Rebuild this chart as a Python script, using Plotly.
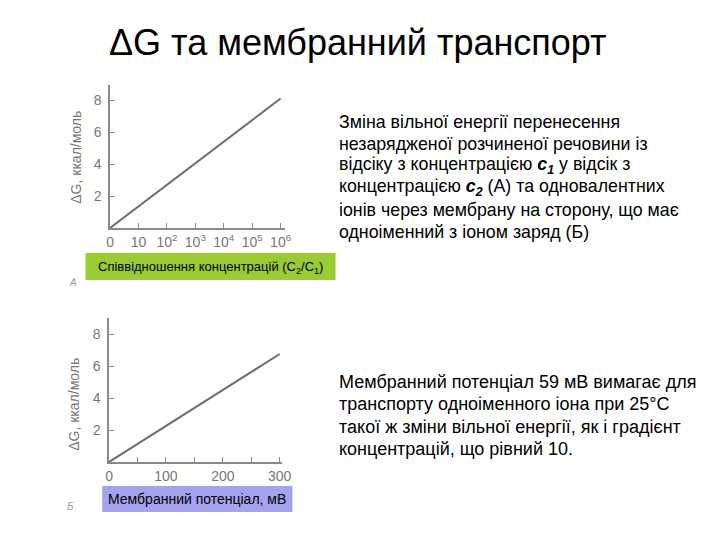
import plotly.graph_objects as go

# ---- data ----
ratio_log = [0, 6]            # log10(C2/C1) positions
dg_conc = [0, 8.1]            # kcal/mol
ratio_tickvals = [0, 1, 2, 3, 4, 5, 6]
ratio_ticktext = ["0", "10", "10<sup>2</sup>", "10<sup>3</sup>", "10<sup>4</sup>", "10<sup>5</sup>", "10<sup>6</sup>"]
potential_mv = [0, 300]
dg_pot = [0, 6.75]
pot_tickvals = [0, 50, 100, 150, 200, 250, 300]
pot_ticktext = ["0", "", "100", "", "200", "", "300"]
y_tickvals = [2, 4, 6, 8]

para1_lines = ["Зміна вільної енергії перенесення",
               "незарядженої розчиненої речовини із",
               "відсіку з концентрацією <b><i>c<sub>1</sub></i></b> у відсік з",
               "концентрацією <b><i>c<sub>2</sub></i></b> (А) та одновалентних",
               "іонів через мембрану на сторону, що має",
               "одноіменний з іоном заряд (Б)"]
para2_lines = ["Мембранний потенціал 59 мВ вимагає для",
               "транспорту одноіменного іона при 25°С",
               "такої ж зміни вільної енергії, як і градієнт",
               "концентрацій, що рівний 10."]

W, H = 720, 540
OX, OY = 8, 8  # page body margin offset
def px(x):
    return (x - OX) / W
def py(y):
    return 1 - (y - OY) / H

fig = go.Figure()
fig.add_trace(go.Scatter(x=ratio_log, y=dg_conc, mode="lines",
                         line=dict(color="#6e6e6e", width=2), xaxis="x", yaxis="y", showlegend=False))
fig.add_trace(go.Scatter(x=potential_mv, y=dg_pot, mode="lines",
                         line=dict(color="#6e6e6e", width=2), xaxis="x2", yaxis="y2", showlegend=False))

font = "Arial"
axcol = "#8a8a8a"
tickfont = dict(family=font, size=14, color="#777777")
common = dict(showline=True, linecolor=axcol, linewidth=1.5, showgrid=False, zeroline=False,
              ticks="inside", ticklen=5, tickcolor=axcol, tickfont=tickfont, fixedrange=True)

fig.update_layout(
    width=W, height=H, margin=dict(l=0, r=0, t=0, b=0),
    paper_bgcolor="white", plot_bgcolor="white",
    xaxis=dict(domain=[px(108), px(286)], range=[0, 6.14], anchor="y",
               tickvals=ratio_tickvals, ticktext=ratio_ticktext, **common),
    yaxis=dict(domain=[py(228), py(85)], range=[0, 8.94], anchor="x",
               tickvals=y_tickvals, ticklabelstandoff=4, **common),
    xaxis2=dict(domain=[px(107), px(283)], range=[0, 303.4], anchor="y2",
                tickvals=pot_tickvals, ticktext=pot_ticktext, **common),
    yaxis2=dict(domain=[py(462), py(318)], range=[0, 9.0], anchor="x2",
                tickvals=y_tickvals, ticklabelstandoff=4, **common),
)

shapes = [
    dict(type="rect", xref="paper", yref="paper", x0=px(83), x1=px(338), y0=py(280), y1=py(253),
         fillcolor="#99cc33", line=dict(width=0), layer="below"),
    dict(type="rect", xref="paper", yref="paper", x0=px(100), x1=px(294), y0=py(512), y1=py(486),
         fillcolor="#a3a3ee", line=dict(width=0), layer="below"),
]
fig.update_layout(shapes=shapes)

ann = []
ann.append(dict(text="ΔG та мембранний транспорт", x=px(105), y=py(42), xanchor="left", yanchor="middle",
                font=dict(family=font, size=36, color="black")))
ann.append(dict(text="Співвідношення концентрацій (C<sub>2</sub>/C<sub>1</sub>)", x=px(210), y=py(267),
                xanchor="center", yanchor="middle", font=dict(family=font, size=13, color="black")))
ann.append(dict(text="Мембранний потенціал, мВ", x=px(197), y=py(499),
                xanchor="center", yanchor="middle", font=dict(family=font, size=14, color="black")))
ann.append(dict(text="<i>А</i>", x=px(70), y=py(282), xanchor="center", yanchor="middle",
                font=dict(family=font, size=10, color="#999999")))
ann.append(dict(text="<i>Б</i>", x=px(68), y=py(506), xanchor="center", yanchor="middle",
                font=dict(family=font, size=10, color="#999999")))
ann.append(dict(text="ΔG, ккал/моль", x=px(73), y=py(157), textangle=-90, xanchor="center", yanchor="middle",
                font=dict(family=font, size=14, color="#777777")))
ann.append(dict(text="ΔG, ккал/моль", x=px(71), y=py(404), textangle=-90, xanchor="center", yanchor="middle",
                font=dict(family=font, size=14, color="#777777")))
for i, line in enumerate(para1_lines):
    ann.append(dict(text=line, x=px(339), y=py(122 + 22 * i), xanchor="left", yanchor="middle", align="left",
                    font=dict(family=font, size=17.8, color="black")))
for i, line in enumerate(para2_lines):
    ann.append(dict(text=line, x=px(339), y=py(382 + 22.3 * i), xanchor="left", yanchor="middle", align="left",
                    font=dict(family=font, size=18, color="black")))
for a in ann:
    a.update(xref="paper", yref="paper", showarrow=False)
fig.update_layout(annotations=ann)

fig.write_html("out.html")
